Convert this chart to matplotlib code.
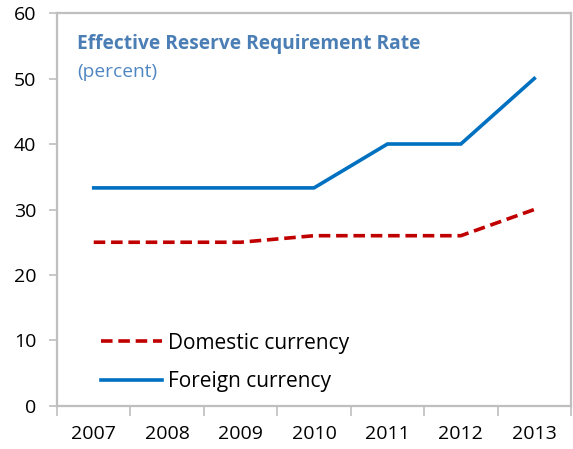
import matplotlib
matplotlib.use("Agg")
import matplotlib.pyplot as plt

years = ["2007", "2008", "2009", "2010", "2011", "2012", "2013"]
domestic = [25, 25, 25, 26, 26, 26, 30]
foreign = [33.3, 33.3, 33.3, 33.3, 40, 40, 50]
y_ticks = [0, 10, 20, 30, 40, 50, 60]

plt.rcParams["font.family"] = ["Open Sans", "DejaVu Sans"]

fig = plt.figure(figsize=(5.73, 4.49), dpi=100)
ax = fig.add_axes([0.0995, 0.0958, 0.8970, 0.8752])

x = list(range(len(years)))
ax.plot(x, domestic, color="#C00000", lw=2.6, ls=(0, (3.2, 1.6)),
        label="Domestic currency", solid_capstyle="butt", dash_capstyle="butt")
ax.plot(x, foreign, color="#0070C0", lw=2.6, label="Foreign currency",
        solid_joinstyle="miter")

ax.set_xlim(-0.5, len(years) - 0.5)
ax.set_ylim(0, 60)
ax.set_yticks(y_ticks)
ax.set_yticklabels([str(v) for v in y_ticks], fontsize=14)

# category boundaries get tick marks, centers get the labels
ax.set_xticks([i - 0.5 for i in range(len(years) + 1)])
ax.set_xticklabels([])
ax.set_xticks(x, minor=True)
ax.set_xticklabels(years, minor=True, fontsize=14)
ax.tick_params(axis="x", which="major", length=7, color="#BFBFBF", width=1.2)
ax.tick_params(axis="x", which="minor", length=0, pad=14)
ax.tick_params(axis="y", length=6, color="#BFBFBF", width=1.2, pad=9)

for s in ax.spines.values():
    s.set_color("#BFBFBF")
    s.set_linewidth(1.6)

ax.text(0.039, 0.921, "Effective Reserve Requirement Rate", transform=ax.transAxes,
        fontsize=13.8, fontweight="bold", color="#4A7EB5", va="center", ha="left")
ax.text(0.039, 0.850, "(percent)", transform=ax.transAxes,
        fontsize=13.8, color="#4F86C1", va="center", ha="left")

leg = ax.legend(loc="lower left", bbox_to_anchor=(0.05, -0.013), frameon=False,
                fontsize=15, handlelength=2.9, handletextpad=0.3,
                labelspacing=0.85)

fig.savefig("out.png", dpi=100)
